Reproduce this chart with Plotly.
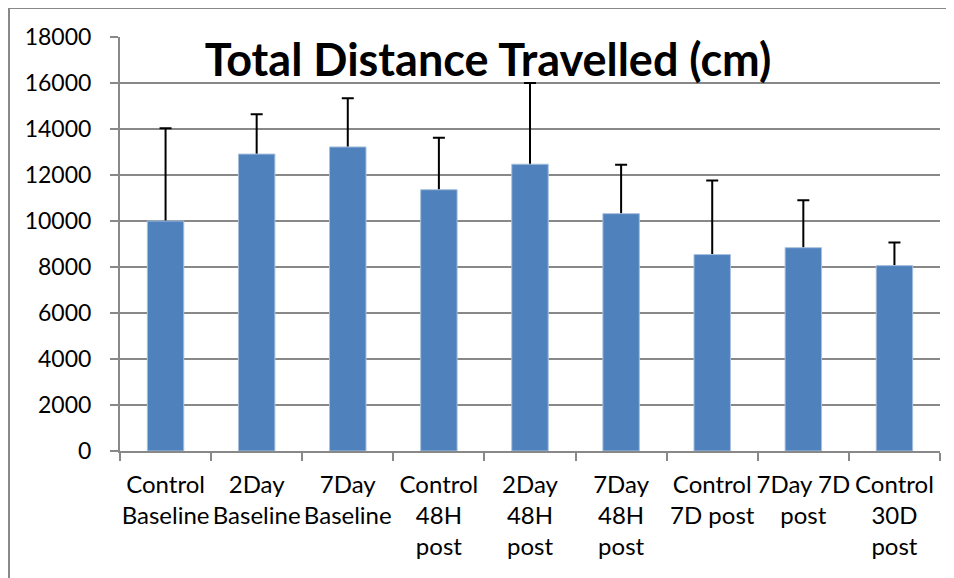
import plotly.graph_objects as go

categories = [
    "Control<br>Baseline", "2Day<br>Baseline", "7Day<br>Baseline",
    "Control<br>48H<br>post", "2Day<br>48H<br>post", "7Day<br>48H<br>post",
    "Control<br>7D post", "7Day 7D<br>post", "Control<br>30D<br>post",
]
means = [10000, 12910, 13220, 11360, 12470, 10320, 8540, 8840, 8060]
errors_plus = [4030, 1730, 2120, 2260, 3530, 2130, 3220, 2060, 1000]
y_ticks = [0, 2000, 4000, 6000, 8000, 10000, 12000, 14000, 16000, 18000]

BAR = "#4F81BD"
GRID = "#888888"

# page offset of the figure (default body margin)
OFF = 8
# figure size and plot area (figure pixels)
W, H = 954 - OFF, 578 - OFF
L, R, T, B = 120 - OFF, 14, 37 - OFF, 127
pw, ph = W - L - R, H - T - B

def px_x(p):  # page pixel -> paper x
    return (p - OFF - L) / pw

def px_y(p):  # page pixel -> paper y
    return (H - B - (p - OFF)) / ph

# error-bar carrier (drawn beneath the visible bars so the lower cap is hidden)
hidden_minus = [m * 0.05 for m in means]

fig = go.Figure()
fig.add_trace(go.Bar(
    x=categories, y=means,
    marker=dict(color="rgba(0,0,0,0)", line=dict(width=0)),
    error_y=dict(type="data", symmetric=False, array=errors_plus,
                 arrayminus=hidden_minus, color="black", thickness=2, width=6),
    width=0.4, hoverinfo="skip", showlegend=False,
))
fig.add_trace(go.Bar(
    x=categories, y=means,
    marker=dict(color=BAR, line=dict(color="#A7C0DE", width=1)),
    width=0.4, showlegend=False,
))

fig.update_layout(
    width=W, height=H,
    margin=dict(l=L, r=R, t=T, b=B, pad=0, autoexpand=False),
    paper_bgcolor="white", plot_bgcolor="white",
    barmode="overlay",
    font=dict(family="Lato", size=23, color="black"),
    title=dict(text="<b>Total Distance Travelled (cm)</b>",
               font=dict(family="Lato", size=45, color="black"),
               xref="paper", yref="paper", x=px_x(488), y=px_y(60),
               xanchor="center", yanchor="middle"),
    xaxis=dict(
        type="category", range=[-0.5, 8.5], automargin=False,
        showline=True, linecolor=GRID, linewidth=2,
        ticks="outside", tickson="boundaries", ticklen=8,
        tickcolor=GRID, tickwidth=2, tickangle=0,
        showgrid=False, ticklabelstandoff=11,
        tickfont=dict(family="Lato", size=24, color="black"),
    ),
    yaxis=dict(
        range=[0, 18000], tickvals=y_ticks, ticktext=[str(v) for v in y_ticks],
        automargin=False,
        showline=True, linecolor=GRID, linewidth=2,
        ticks="outside", ticklen=8, tickcolor=GRID, tickwidth=2,
        showgrid=True, gridcolor=GRID, gridwidth=2,
        zeroline=False, ticklabelstandoff=14,
        tickfont=dict(family="Lato", size=23, color="black"),
    ),
    shapes=[
        dict(type="line", xref="paper", yref="paper",
             x0=px_x(9), x1=px_x(9), y0=px_y(8), y1=px_y(578),
             line=dict(color=GRID, width=2)),
        dict(type="line", xref="paper", yref="paper",
             x0=px_x(9), x1=px_x(954), y0=px_y(8), y1=px_y(8),
             line=dict(color=GRID, width=2)),
    ],
)

fig.write_html("out.html")
